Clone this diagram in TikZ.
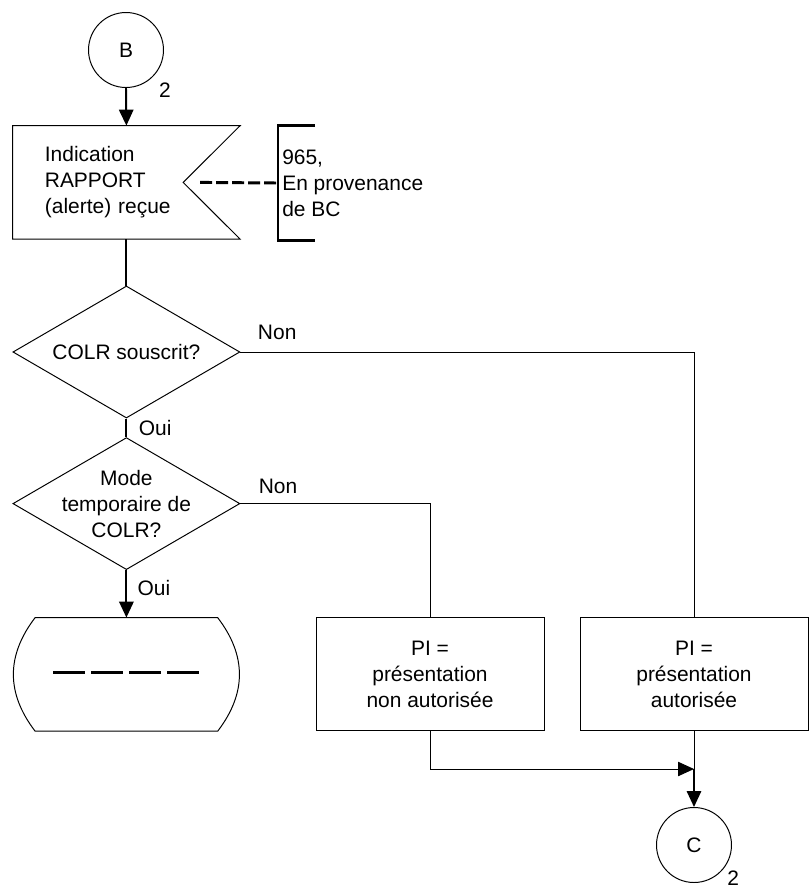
\documentclass[tikz,border=0pt]{standalone}
\usepackage{fontspec}
\setmainfont{Liberation Sans}
\usetikzlibrary{arrows.meta,positioning,calc,shapes.geometric}

\begin{document}
\begin{tikzpicture}[
    font=\fontsize{14.9pt}{18.5pt}\selectfont,
    conn/.style={draw, circle, line width=0.7pt, minimum size=1.875cm, inner sep=0pt},
    sigbox/.style={minimum height=2.825cm, text width=4.075cm, inner xsep=0.8cm, align=left},
    srctext/.style={minimum height=2.85cm, inner xsep=0.1cm, align=left},
    decision/.style={draw, diamond, aspect=1.72, line width=0.7pt, minimum width=5.675cm, minimum height=3.3cm, inner sep=-6pt, align=center},
    taskbox/.style={draw, line width=0.7pt, minimum width=5.7cm, minimum height=2.825cm, align=center},
    lbl/.style={inner sep=1pt},
    line/.style={line width=0.7pt},
    flow/.style={line width=1.4pt},
    dashline/.style={line width=2.1pt, dash pattern=on 0.3cm off 0.1cm},
    bracket/.style={line width=2.1pt},
    arrow/.style={-{Triangle[length=0.4cm, width=0.36cm]}, line width=1.4pt},
    thinarrow/.style={-{Triangle[length=0.4cm, width=0.36cm]}, line width=0.7pt}
]
\useasboundingbox (0,0) rectangle (20.3,-22.3);

% entry connector and received signal
\node[conn] (b) at (3.15,-1.25) {B};
\node[lbl] (b2) at (4.125,-2.25) {2};
\node[sigbox] (recv) at (3.16,-4.56) {Indication\\RAPPORT\\(alerte) reçue};
\draw[line] (recv.north west) -- (recv.north east) -- ($(recv.east)+(-1.425,0)$)
    -- (recv.south east) -- (recv.south west) -- cycle;
\node[srctext, anchor=west] (src) at (6.95,-4.575) {965,\\En provenance\\de BC};
\draw[bracket] ([xshift=0.93cm]src.north west) -- (src.north west)
    -- (src.south west) -- ([xshift=0.93cm]src.south west);
\draw[dashline] ($(recv.east)+(-1.0,0)$) -- (src.west);

% decisions
\node[decision] (q1) at (3.16,-8.8) {COLR souscrit?};
\node[decision] (q2) at (3.16,-12.59) {Mode\\temporaire de\\COLR?};
\node[lbl] (non1) at (6.93,-8.3) {Non};
\node[lbl] (oui1) at (3.88,-10.7) {Oui};
\node[lbl] (non2) at (6.95,-12.15) {Non};
\node[lbl] (oui2) at (3.85,-14.7) {Oui};

% outcomes
\node[minimum width=5.7cm, minimum height=2.825cm] (tmp) at (3.16,-16.86) {};
\draw[line] ([xshift=0.575cm]tmp.north west) -- ([xshift=-0.575cm]tmp.north east)
    .. controls ([xshift=0.15cm,yshift=-0.95cm]tmp.north east) and ([xshift=0.15cm,yshift=0.95cm]tmp.south east)
    .. ([xshift=-0.575cm]tmp.south east) -- ([xshift=0.575cm]tmp.south west)
    .. controls ([xshift=-0.15cm,yshift=0.95cm]tmp.south west) and ([xshift=-0.15cm,yshift=-0.95cm]tmp.north west)
    .. cycle;
\draw[line width=2.1pt, dash pattern=on 0.8cm off 0.15cm] ([xshift=-1.825cm,yshift=0.04cm]tmp.center) -- ([xshift=1.825cm,yshift=0.04cm]tmp.center);
\node[taskbox] (pin) at (10.75,-16.86) {PI =\\présentation\\non autorisée};
\node[taskbox] (pia) at (17.35,-16.86) {PI =\\présentation\\autorisée};
\coordinate (jn) at (17.35,-19.225);
\node[conn] (c) at (17.35,-21.125) {C};
\node[lbl] (c2) at (18.33,-21.95) {2};

% connections
\draw[arrow] (b.south) -- (recv.north);
\draw[flow] (recv.south) -- (q1.north);
\draw[flow] (q1.south) -- (q2.north);
\draw[arrow] (q2.south) -- (tmp.north);
\draw[line] (q1.east) -| (pia.north);
\draw[line] (q2.east) -| (pin.north);
\draw[thinarrow] (pin.south) |- (jn);
\draw[line] (pia.south) -- (jn);
\draw[arrow] (jn) -- (c.north);
\end{tikzpicture}
\end{document}
